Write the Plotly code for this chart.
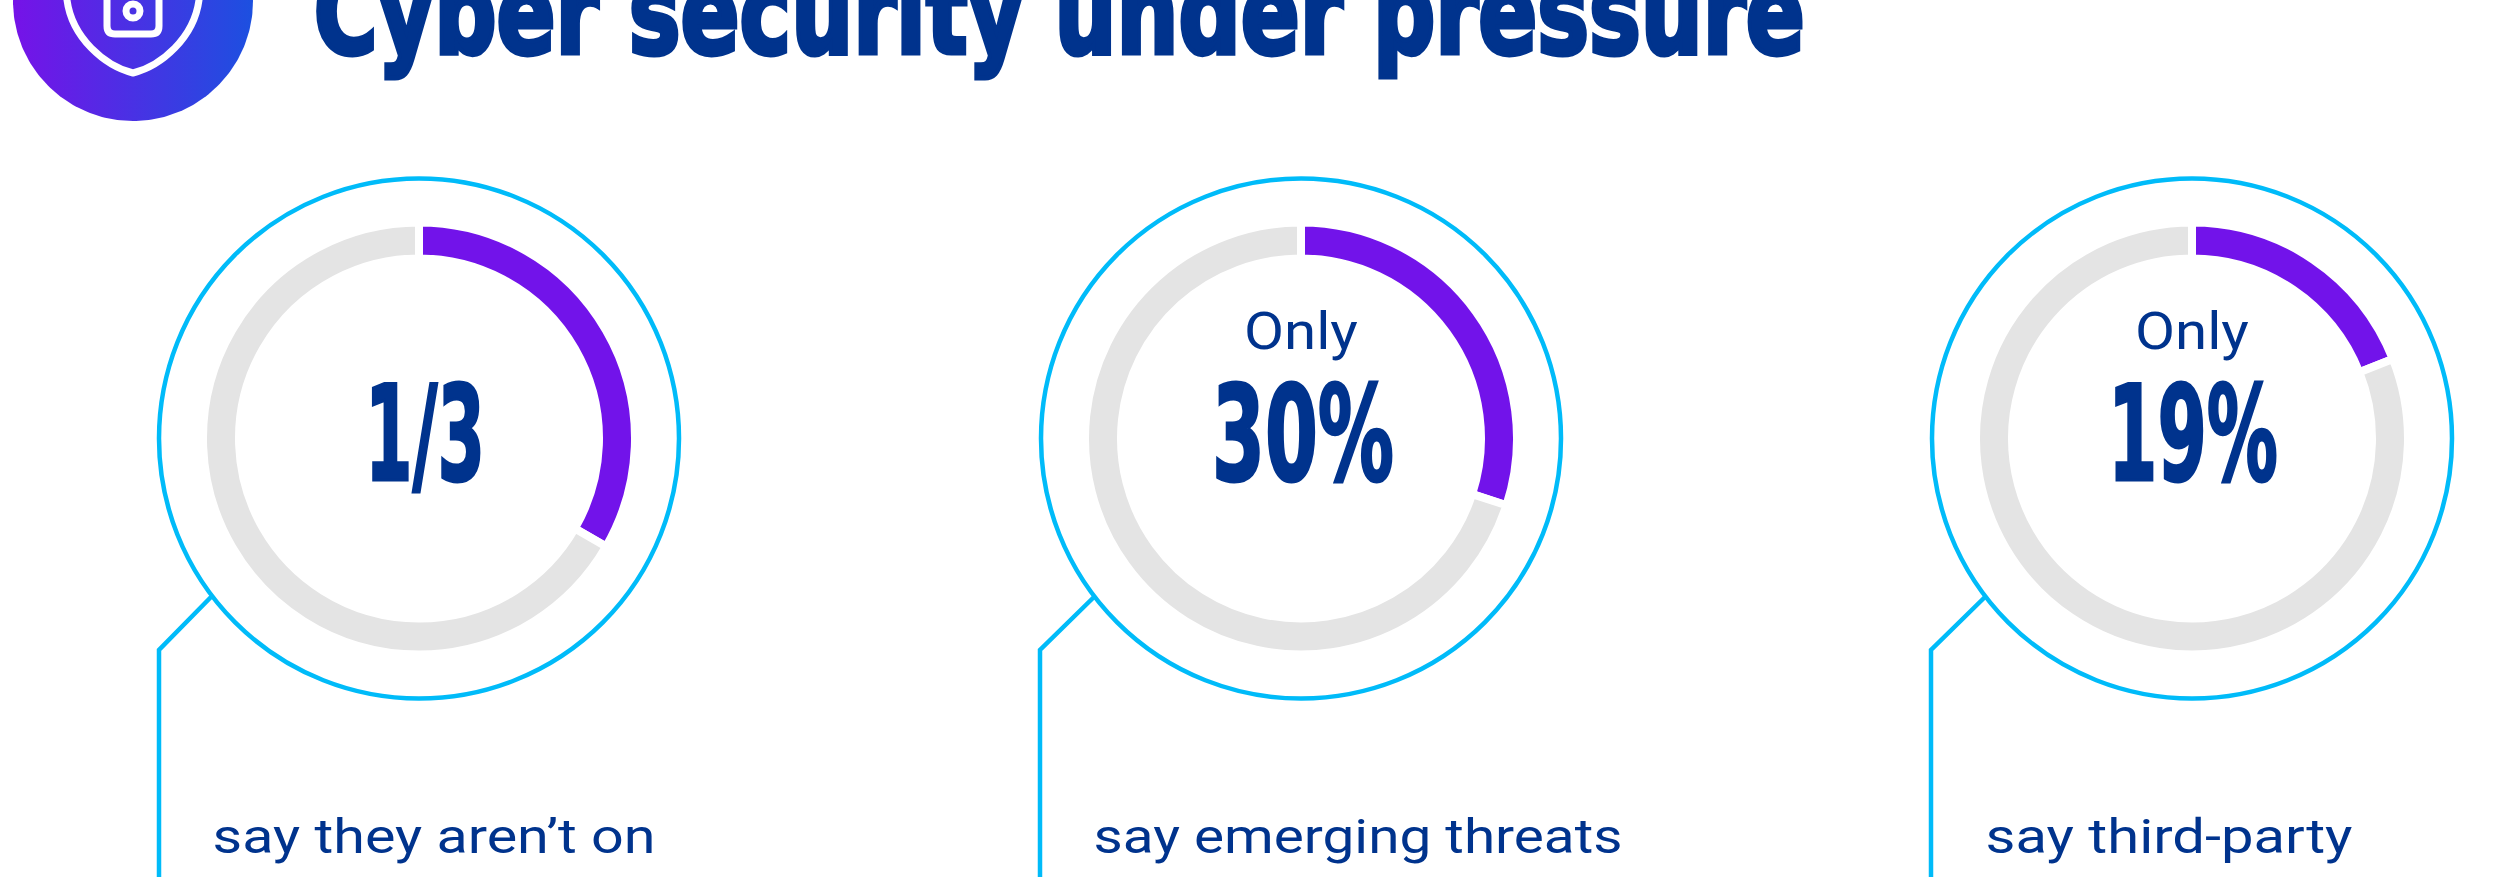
import json
import numpy as np
import plotly.graph_objects as go

W, H = 2516, 877
BLUE, CYAN, PURPLE, GREY = "#00338D", "#00BBF9", "#7213EA", "#E4E4E4"

# data
title_text = "Cyber security under pressure"
big_labels = ["1/3", "30%", "19%"]
lead_in = ["", "Only", "Only"]
captions = ["say they aren’t on", "say emerging threats", "say third-party"]
shares = [1 / 3, 0.30, 0.19]

# layout (pixels)
centres_x = [419, 1301, 2192]
centre_y = 438.5
ring_r = 260
donut_r = 216
leader_top = [(211, 597), (1094, 597), (1985, 597)]
leader_knee = [(159, 650), (1040, 650), (1931, 650)]
caption_centre = [433.5, 1357.5, 2168.5]
caption_w = [443, 529, 367]
big_w = [120, 182, 170]
big_cx = [425, 1303, 2193]

fig = go.Figure()

# badge
t = np.linspace(0, 2 * np.pi, 241)
fig.add_trace(go.Scatter(
    x=133 + 120 * np.cos(t), y=1 + 120 * np.sin(t), mode="lines", fill="toself",
    line=dict(width=0, color="rgba(0,0,0,0)"), hoverinfo="skip", showlegend=False,
    fillgradient=dict(type="horizontal", colorscale=[[0, "#7612E8"], [1, "#1C50E0"]]),
))

for cx, share in zip(centres_x, shares):
    fig.add_trace(go.Pie(
        values=[share, 1 - share], sort=False, direction="clockwise", rotation=0,
        hole=180 / 216, textinfo="none", hoverinfo="skip", showlegend=False,
        marker=dict(colors=[PURPLE, GREY], line=dict(color="white", width=8)),
        domain=dict(x=[(cx - donut_r) / W, (cx + donut_r) / W],
                    y=[1 - (centre_y + donut_r) / H, 1 - (centre_y - donut_r) / H]),
    ))

shapes = []
for cx, top, knee in zip(centres_x, leader_top, leader_knee):
    shapes.append(dict(type="circle", x0=cx - ring_r, x1=cx + ring_r,
                       y0=centre_y - ring_r, y1=centre_y + ring_r,
                       line=dict(color=CYAN, width=4.5)))
    shapes.append(dict(type="path",
                       path=f"M{top[0]},{top[1]} L{knee[0]},{knee[1]} L{knee[0]},{H + 5}",
                       line=dict(color=CYAN, width=4.5)))
# shield and lock on the badge
shapes.append(dict(type="path",
                   path="M67,-40 L67,0 C72,38 105,66 133,73 C161,66 194,38 199,0 L199,-40",
                   line=dict(color="white", width=7)))
shapes.append(dict(type="path",
                   path="M107,-20 L107,26 Q107,34 115,34 L151,34 Q159,34 159,26 L159,-20",
                   line=dict(color="white", width=7)))
shapes.append(dict(type="circle", x0=126, x1=140, y0=4, y1=18,
                   line=dict(color="white", width=7)))

ann = []
def add_text(s, x, y, size, family, weight, anchor="middle"):
    ann.append(dict(text=s, x=x, y=y, xref="x", yref="y", showarrow=False,
                    xanchor="center", yanchor=anchor,
                    font=dict(family=family, size=size, color=BLUE, weight=weight)))

HEAVY = "DejaVu Sans"
LIGHT = "Roboto"
add_text(title_text, 1059, 82, 115, HEAVY, 700, "bottom")
for i in range(3):
    add_text(big_labels[i], big_cx[i], 434, 132, HEAVY, 700)
    if lead_in[i]:
        add_text(lead_in[i], centres_x[i], 331, 52, LIGHT, 400)
    add_text(captions[i], caption_centre[i], 836.5, 48, LIGHT, 400)

fig.update_layout(
    width=W, height=H, margin=dict(l=0, r=0, t=0, b=0), paper_bgcolor="white",
    plot_bgcolor="white", showlegend=False, shapes=shapes, annotations=ann,
    xaxis=dict(range=[0, W], visible=False, fixedrange=True),
    yaxis=dict(range=[H, 0], visible=False, fixedrange=True),
)

fit = {title_text: 1491}
fit.update(dict(zip(big_labels, big_w)))
fit.update(dict(zip(captions, caption_w)))
fit["Only"] = 114
heavy = {title_text: 5}
heavy.update({s: 3 for s in big_labels})
post = """
document.body.style.margin = '0';
var fit = %s, heavy = %s;
document.querySelectorAll('text.annotation-text').forEach(function (el) {
  var s = el.textContent, w = fit[s];
  if (w) { el.setAttribute('textLength', w); el.setAttribute('lengthAdjust', 'spacingAndGlyphs'); }
  if (heavy[s]) { el.style.stroke = '%s'; el.style.strokeWidth = heavy[s] + 'px'; }
});
""" % (json.dumps(fit, ensure_ascii=False), json.dumps(heavy), BLUE)
fig.write_html("out.html", post_script=post, config=dict(displayModeBar=False))
